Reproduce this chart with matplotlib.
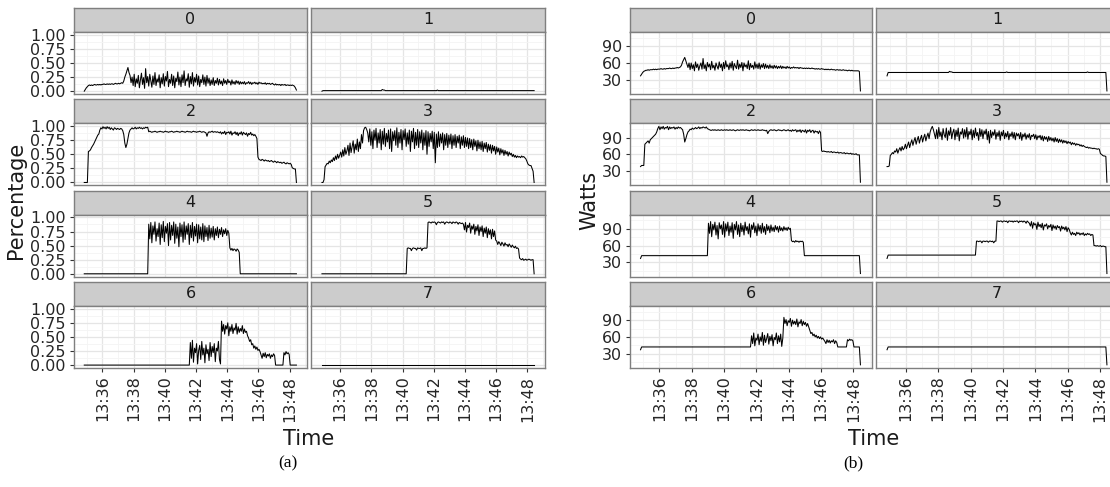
import numpy as np
import matplotlib
matplotlib.use('Agg')
import matplotlib.pyplot as plt

W, H = 1110, 487

# trace window, in minutes after 13:00 (13:34:50 -> 13:48:26, one sample every 4 s)
T_START = 34.833
T_END = 48.433

time_ticks = [36, 38, 40, 42, 44, 46, 48]
time_labels = ['13:36', '13:38', '13:40', '13:42', '13:44', '13:46', '13:48']
cores = ['0', '1', '2', '3', '4', '5', '6', '7']

pct_ticks = [0.0, 0.25, 0.5, 0.75, 1.0]
pct_labels = ['0.00', '0.25', '0.50', '0.75', '1.00']
watt_ticks = [30, 60, 90]
watt_labels = ['30', '60', '90']

# ---- (a) utilisation per core ----
cpu_0 = ([0.00, 0.03, 0.06, 0.08] +
         [0.10, 0.11, 0.10, 0.11, 0.10, 0.11, 0.12, 0.11, 0.11, 0.12,
          0.11, 0.12, 0.11, 0.12, 0.12, 0.13, 0.12, 0.12, 0.13, 0.12,
          0.13, 0.12, 0.13, 0.13, 0.12, 0.13, 0.14, 0.13, 0.13, 0.14,
          0.13, 0.14, 0.15, 0.14] +
         [0.18, 0.25, 0.30, 0.36, 0.42, 0.33, 0.28, 0.15] +
         [0.25, 0.10, 0.30, 0.08, 0.22, 0.14, 0.28, 0.06, 0.20, 0.32,
          0.12, 0.24, 0.05, 0.40, 0.15, 0.26, 0.09, 0.30, 0.18, 0.07,
          0.27, 0.12, 0.33, 0.10, 0.22, 0.16, 0.29, 0.06, 0.24, 0.13,
          0.31, 0.09, 0.26, 0.18, 0.35, 0.08, 0.21, 0.14, 0.30, 0.10,
          0.27, 0.06, 0.23, 0.17, 0.34, 0.11, 0.25, 0.08, 0.29, 0.15,
          0.36, 0.10, 0.22, 0.18, 0.31, 0.07, 0.26, 0.13, 0.33, 0.09,
          0.24, 0.16, 0.30, 0.11, 0.27, 0.08, 0.21, 0.15, 0.29, 0.12,
          0.25, 0.09, 0.28, 0.14, 0.23, 0.10] +
         [0.20, 0.12, 0.24, 0.10, 0.19, 0.14, 0.23, 0.11, 0.21, 0.13,
          0.18, 0.10, 0.22, 0.14, 0.19, 0.12, 0.21, 0.15, 0.18, 0.11,
          0.20, 0.13, 0.17, 0.12, 0.19, 0.14, 0.18, 0.12, 0.17, 0.13] +
         [0.16, 0.13, 0.17, 0.12, 0.15, 0.14, 0.17, 0.13, 0.16, 0.12,
          0.15, 0.14, 0.16, 0.13, 0.15, 0.12, 0.16, 0.14, 0.15, 0.13,
          0.14, 0.13, 0.15, 0.12, 0.14, 0.13, 0.14, 0.12, 0.13, 0.14] +
         [0.12, 0.11, 0.13, 0.11, 0.12, 0.11, 0.12, 0.10, 0.12, 0.11,
          0.11, 0.12, 0.10, 0.11, 0.11, 0.10, 0.11, 0.10, 0.11, 0.10] +
         [0.09, 0.06, 0.02])
cpu_1 = [0.00] + [0.01] * 57 + [0.03, 0.02, 0.02] + [0.01] * 50 + [0.02] + [0.01] * 93
cpu_2 = ([0.00, 0.00, 0.00, 0.00] +
         [0.55, 0.56, 0.58, 0.62, 0.65, 0.68, 0.72, 0.76, 0.80, 0.84, 0.86, 0.93, 0.97] +
         [0.95, 0.99, 0.96, 0.98, 0.95, 0.99, 0.96, 0.98, 0.94, 0.97,
          0.95, 0.93, 0.97, 0.96, 0.94, 0.96, 0.95, 0.94, 0.96, 0.95, 0.92] +
         [0.85, 0.70, 0.62, 0.68, 0.78, 0.88, 0.93] +
         [0.95, 0.97, 0.95, 0.96, 0.98, 0.95, 0.97, 0.96, 0.98, 0.96,
          0.97, 0.95, 0.97, 0.96, 0.98, 0.97, 0.98] +
         [0.90, 0.91, 0.90, 0.89, 0.90, 0.90, 0.91, 0.90, 0.89, 0.90,
          0.90, 0.91, 0.90, 0.90, 0.89, 0.90, 0.91, 0.90, 0.90, 0.89,
          0.90, 0.90, 0.91, 0.90, 0.89, 0.90, 0.90, 0.91, 0.90, 0.90,
          0.89, 0.90, 0.91, 0.90, 0.90, 0.89, 0.90, 0.91, 0.90, 0.90,
          0.90, 0.89, 0.90, 0.91, 0.90, 0.90, 0.89, 0.90, 0.90, 0.91,
          0.90, 0.89, 0.90, 0.90, 0.89, 0.88] +
         [0.82, 0.88] +
         [0.90, 0.89, 0.90, 0.91, 0.89, 0.90, 0.90, 0.89, 0.90, 0.89] +
         [0.88, 0.90, 0.86, 0.89, 0.87, 0.91, 0.85, 0.89, 0.88, 0.90,
          0.86, 0.91, 0.84, 0.88, 0.87, 0.90, 0.85, 0.89, 0.83, 0.88,
          0.86, 0.90, 0.84, 0.89, 0.87, 0.85, 0.88, 0.82, 0.87, 0.85,
          0.89, 0.84, 0.86, 0.83, 0.85, 0.82] +
         [0.78, 0.45] +
         [0.41, 0.40, 0.39, 0.41, 0.40, 0.38, 0.40, 0.39, 0.38, 0.39,
          0.37, 0.38, 0.39, 0.37, 0.36, 0.38, 0.37, 0.35, 0.37, 0.36,
          0.35, 0.36, 0.34, 0.35, 0.36, 0.34, 0.33, 0.35, 0.34, 0.33,
          0.34, 0.32] +
         [0.26, 0.25, 0.24, 0.24, 0.00])
cpu_3 = ([0.00, 0.00, 0.05, 0.28] +
         [0.31, 0.34, 0.33, 0.38, 0.35, 0.40, 0.37, 0.44, 0.39, 0.47, 0.41, 0.50, 0.43, 0.48] +
         [0.54, 0.45, 0.58, 0.47, 0.62, 0.50, 0.56, 0.66, 0.48, 0.70,
          0.53, 0.64, 0.74, 0.52, 0.68, 0.58, 0.77, 0.55, 0.72, 0.60, 0.85, 0.70] +
         [0.92, 0.97, 0.98, 0.94, 0.88, 0.72] +
         [0.95, 0.66, 0.90, 0.60, 0.93, 0.75, 0.96, 0.62, 0.88, 0.70,
          0.94, 0.58, 0.91, 0.68, 0.96, 0.64, 0.87, 0.72, 0.93, 0.60,
          0.95, 0.55, 0.90, 0.74, 0.92, 0.66, 0.97, 0.62, 0.89, 0.70,
          0.94, 0.58, 0.92, 0.76, 0.95, 0.64, 0.88, 0.68, 0.93, 0.55,
          0.91, 0.72, 0.96, 0.60, 0.89, 0.66, 0.94, 0.62, 0.90, 0.70,
          0.93, 0.58, 0.88, 0.66, 0.92, 0.50, 0.90, 0.64, 0.87, 0.72,
          0.91, 0.60, 0.89, 0.35, 0.86, 0.62] +
         [0.90, 0.64, 0.86, 0.70, 0.88, 0.58, 0.85, 0.66, 0.87, 0.62,
          0.84, 0.68, 0.86, 0.60, 0.83, 0.66, 0.85, 0.62, 0.82, 0.70,
          0.84, 0.60, 0.81, 0.66, 0.83, 0.62, 0.80, 0.64, 0.79, 0.60] +
         [0.78, 0.62, 0.76, 0.58, 0.77, 0.64, 0.74, 0.56, 0.75, 0.60,
          0.72, 0.58, 0.73, 0.55, 0.70, 0.60, 0.71, 0.54, 0.68, 0.57,
          0.67, 0.52, 0.66, 0.56, 0.64, 0.50, 0.63, 0.54, 0.61, 0.49,
          0.60, 0.52, 0.58, 0.48, 0.57, 0.50, 0.55, 0.47, 0.54, 0.49,
          0.52, 0.46] +
         [0.50, 0.45, 0.48, 0.44, 0.47, 0.45, 0.46, 0.44, 0.47, 0.45, 0.46, 0.44] +
         [0.42, 0.38, 0.33, 0.31, 0.30, 0.30, 0.25, 0.20, 0.00])
cpu_4 = ([0.0] * 62 +
         [0.88, 0.62, 0.91, 0.55, 0.85, 0.70, 0.92, 0.58, 0.80, 0.66,
          0.90, 0.52, 0.87, 0.64, 0.93, 0.57, 0.84, 0.72, 0.89, 0.50,
          0.91, 0.60, 0.86, 0.68, 0.92, 0.54, 0.88, 0.63, 0.83, 0.48,
          0.90, 0.66, 0.87, 0.56, 0.92, 0.61, 0.85, 0.70, 0.89, 0.52,
          0.86, 0.64, 0.91, 0.58, 0.84, 0.67, 0.88, 0.55, 0.87, 0.62,
          0.83, 0.60, 0.89, 0.57, 0.85, 0.66, 0.82, 0.59, 0.86, 0.63,
          0.81, 0.65, 0.84, 0.60, 0.80, 0.68, 0.83, 0.64, 0.79, 0.70,
          0.82, 0.66, 0.78, 0.71, 0.80, 0.68, 0.77, 0.72] +
         [0.46, 0.42, 0.45, 0.41, 0.44, 0.43, 0.40, 0.44, 0.42, 0.38] +
         [0.0] * 55)
cpu_5 = ([0.0] * 82 +
         [0.45, 0.46, 0.45, 0.45, 0.41, 0.45, 0.46, 0.45, 0.45, 0.42,
          0.46, 0.45, 0.45, 0.46, 0.41, 0.45, 0.45, 0.46, 0.45, 0.46] +
         [0.91, 0.92, 0.91, 0.90, 0.92, 0.91, 0.92, 0.91, 0.87, 0.91,
          0.92, 0.91, 0.90, 0.92, 0.91, 0.92, 0.88, 0.91, 0.92, 0.91,
          0.90, 0.92, 0.91, 0.89, 0.92, 0.91, 0.90, 0.92, 0.91, 0.88,
          0.91, 0.90, 0.89, 0.90] +
         [0.88, 0.78, 0.91, 0.74, 0.86, 0.82, 0.90, 0.72, 0.85, 0.79,
          0.88, 0.70, 0.84, 0.76, 0.87, 0.68, 0.83, 0.75, 0.85, 0.66,
          0.81, 0.72, 0.83, 0.64, 0.80, 0.70, 0.78, 0.62, 0.79, 0.66,
          0.76, 0.60] +
         [0.58, 0.52, 0.57, 0.54, 0.50, 0.56, 0.53, 0.49, 0.55, 0.51,
          0.52, 0.48, 0.53, 0.50, 0.47, 0.51, 0.48, 0.46, 0.49, 0.45,
          0.46, 0.44] +
         [0.28, 0.26, 0.25, 0.27, 0.24, 0.25, 0.26, 0.24, 0.25, 0.26, 0.25, 0.24, 0.25, 0.25] +
         [0.0])
cpu_6 = ([0.0] * 102 +
         [0.40, 0.12, 0.44, 0.05, 0.30, 0.22, 0.38, 0.02, 0.26, 0.35,
          0.10, 0.42, 0.18, 0.30, 0.04, 0.36, 0.20, 0.28, 0.08, 0.40,
          0.15, 0.33, 0.22, 0.38, 0.06, 0.30, 0.25, 0.42, 0.10, 0.02] +
         [0.78, 0.60, 0.72, 0.55, 0.70, 0.64, 0.75, 0.52, 0.68, 0.60,
          0.72, 0.56, 0.66, 0.62, 0.74, 0.55, 0.68, 0.58, 0.65, 0.60,
          0.70, 0.56, 0.64, 0.58, 0.60, 0.52] +
         [0.48, 0.42, 0.45, 0.36, 0.38, 0.30, 0.34, 0.28, 0.32, 0.26, 0.28, 0.24] +
         [0.18, 0.12, 0.21, 0.15, 0.22, 0.13, 0.19, 0.16, 0.20, 0.12, 0.18, 0.15, 0.20, 0.17] +
         [0.0] * 8 + [0.22, 0.18, 0.24, 0.20, 0.22, 0.19] + [0.0] * 7)
cpu_7 = [0.0] * 205

# ---- (b) power per core ----
watts_0 = ([37, 40, 43, 45, 46, 47] +
           [47, 48, 47, 48, 48, 48, 49, 48, 49, 48, 49, 49, 49, 50, 49, 49,
            50, 49, 50, 50, 50, 51, 50, 50, 51, 50, 51, 51, 52, 51, 52, 53] +
           [56, 62, 66, 70, 64, 58, 52, 60] +
           [48, 60, 50, 57, 46, 62, 52, 58, 47, 55,
            60, 49, 68, 50, 57, 46, 61, 53, 58, 48,
            63, 51, 56, 47, 60, 54, 49, 62, 52, 58,
            46, 61, 50, 64, 53, 57, 48, 60, 51, 63,
            47, 59, 54, 50, 65, 49, 58, 52, 61, 46,
            60, 53, 57, 50, 64, 48, 59, 52, 56, 49,
            62, 51, 58, 50, 60, 49, 57, 52, 59, 50,
            58, 51, 56, 50, 57, 51, 55, 50, 56, 51,
            55, 50, 54, 51, 55, 50, 54, 51, 53, 50,
            54, 51, 53, 50] +
           [52, 51, 53, 51, 52, 51, 52, 50, 52, 51,
            51, 50, 51, 50, 51, 50, 51, 50, 50, 51,
            50, 50, 49, 50, 49, 50, 49, 49, 50, 49,
            49, 48, 49, 48, 49, 48, 48, 49, 48, 48,
            48, 47, 48, 48, 47, 48, 47, 47, 48, 47,
            47, 47, 46, 47, 47, 46, 47, 46, 46, 46,
            46, 46] +
           [46, 45, 10])
watts_1 = [37] + [43] * 57 + [45, 44, 44] + [43] * 50 + [44] + [43] * 74 + [44] + [43] * 17 + [10]
watts_2 = ([38, 40, 40, 40] +
           [78, 80, 82, 84, 80, 86, 88, 90, 92, 94, 96, 100, 106, 110] +
           [104, 109, 106, 110, 105, 108, 107, 110, 104, 109, 106,
            108, 107, 109, 105, 108, 106, 109, 107, 108, 106, 104] +
           [96, 82, 88, 95, 100] +
           [102, 105, 104, 107, 105, 106, 108, 106, 107, 109,
            106, 108, 107, 109, 108, 107, 109, 106, 105] +
           [104, 103, 103, 104, 103, 104, 103, 103, 104, 103,
            103, 104, 103, 103, 104, 103, 104, 103, 103, 104,
            103, 103, 104, 103, 102, 103, 104, 103, 103, 104,
            103, 104, 103, 103, 104, 103, 103, 102, 103, 104,
            103, 103, 104, 103, 103, 104, 103, 103, 103, 104,
            103, 103, 102, 103, 97, 101, 103, 104, 103, 103,
            104, 103, 102, 103, 104, 103, 103, 102, 103, 104,
            103, 102, 103, 104, 102, 103, 101, 104, 102, 103] +
           [104, 100, 103, 101, 104, 99, 103, 102, 100, 104, 98, 103,
            101, 104, 99, 102, 103, 98, 102, 100, 101, 97, 102, 99] +
           [66, 65, 66, 65, 65, 64, 65, 64, 64, 65, 63, 64, 64, 63, 63, 64, 62,
            63, 63, 62, 62, 63, 61, 62, 62, 61, 61, 62, 60, 61, 60, 60, 61, 59] +
           [59, 59, 10])
watts_3 = ([38, 38, 39, 58] +
           [60, 63, 61, 66, 64, 70, 62, 68, 72, 66, 74, 68, 71, 78, 70, 76, 82, 72,
            80, 86, 76, 84, 90, 78, 86, 92, 80, 88, 94, 82, 90, 96, 84, 92, 98, 88] +
           [100, 106, 110, 104, 96, 88] +
           [104, 88, 108, 92, 100, 86, 106, 95, 90, 107,
            85, 102, 94, 108, 88, 99, 105, 86, 103, 92,
            107, 84, 100, 96, 106, 89, 104, 91, 108, 87,
            101, 95, 105, 86, 103, 90, 107, 93, 99, 85,
            106, 92, 104, 88, 102, 96, 105, 86, 101, 80,
            103, 90, 100, 94, 104, 87, 99, 92, 102, 85,
            100, 93, 103, 88, 98, 91, 101, 86, 97, 92,
            100, 89, 99, 86, 98, 93, 97, 88, 99, 85,
            96, 91, 98, 87, 95, 90, 97, 86, 94, 92,
            96, 88, 95, 86, 93, 90] +
           [94, 86, 93, 84, 92, 87, 91, 83, 92, 85,
            90, 84, 89, 82, 90, 83, 88, 81, 87, 82,
            86, 80, 85, 81, 84, 79, 83, 80, 82, 77,
            81, 78, 80, 76, 79, 77, 78, 75, 77, 74,
            76, 74] +
           [73, 72, 73, 71, 72, 71, 71, 70, 71, 70, 70, 69, 70, 69] +
           [61, 60, 58, 57, 57, 56, 10])
watts_4 = ([37] + [42] * 62 +
           [100, 82, 103, 76, 98, 88, 102, 79, 96, 72,
            101, 90, 97, 80, 103, 75, 99, 86, 102, 78,
            95, 84, 101, 73, 98, 88, 103, 80, 97, 76,
            100, 85, 96, 79, 102, 87, 94, 81, 99, 75,
            97, 89, 101, 83, 95, 78, 99, 86, 96, 82,
            100, 84, 94, 80, 98, 87, 95, 83, 97, 86,
            93, 85, 96, 88, 94, 84, 95, 87, 92, 86,
            94, 88, 92, 87, 93, 89, 91] +
           [69, 67, 68, 66, 69, 67, 68, 66, 68, 67, 68, 66] +
           [42] * 52 + [10])
watts_5 = ([37] + [43] * 82 +
           [68, 68, 67, 68, 68, 65, 68, 68, 67, 68, 68, 66, 68, 68, 67, 68, 65, 68, 68] +
           [104, 104, 103, 104, 104, 102, 104, 104, 103, 104,
            101, 104, 104, 103, 104, 102, 104, 103, 104, 104,
            101, 104, 103, 104, 102, 104, 103, 100, 104, 102] +
           [100, 95, 103, 91, 101, 97, 99, 89, 102, 94,
            98, 92, 100, 88, 97, 95, 99, 90, 96, 93,
            98, 87, 97, 91, 95, 89, 96, 92, 94, 86,
            95, 90, 93, 88, 94, 85, 92, 89] +
           [83, 79, 84, 80, 82, 78, 84, 81, 83, 79, 82,
            80, 83, 78, 81, 79, 82, 80, 81, 78, 80, 79] +
           [60, 60, 59, 60, 59, 59, 60, 58, 59, 59, 58, 58] +
           [10])
watts_6 = ([37] + [42] * 102 +
           [62, 48, 67, 44, 58, 54, 65, 46, 60, 52,
            68, 45, 63, 50, 57, 66, 47, 61, 53, 64,
            44, 59, 55, 67, 48, 62, 51, 65, 43, 58] +
           [95, 84, 91, 80, 89, 86, 93, 79, 90, 83,
            88, 82, 92, 78, 87, 84, 91, 80, 88, 82, 86, 79, 84, 78] +
           [72, 66, 68, 62, 65, 60, 63, 58, 61, 57, 60, 56, 58, 55] +
           [52, 48, 55, 50, 54, 49, 53, 51, 55, 48, 53, 50] +
           [42] * 9 + [55, 53, 56, 54, 55, 53] + [42] * 6 + [10])
watts_7 = [37] + [42] * 203 + [10]

cpu_series = [cpu_0, cpu_1, cpu_2, cpu_3, cpu_4, cpu_5, cpu_6, cpu_7]
watt_series = [watts_0, watts_1, watts_2, watts_3, watts_4, watts_5, watts_6, watts_7]

XLIM = (34.15, 49.13)
BORDER = '#7F7F7F'


def add_box(fig, x0, y0, x1, y1):
    # pixel box (top-left origin) -> figure axes
    return fig.add_axes([x0 / W, 1 - y1 / H, (x1 - x0) / W, (y1 - y0) / H])


def draw_group(fig, cols, series, ylim, yticks, yminor, ylabels):
    for k, vals in enumerate(series):
        row, col = k // 2, k % 2
        x0, x1 = cols[col]
        top = 8 + 91.3 * row

        strip = add_box(fig, x0, top, x1, top + 24)
        strip.set_facecolor('#CCCCCC')
        strip.set_xticks([])
        strip.set_yticks([])
        for s in strip.spines.values():
            s.set_color(BORDER)
            s.set_linewidth(1.0)
        strip.text(0.5, 0.5, cores[k], ha='center', va='center',
                   fontsize=11.5, color='#1A1A1A', transform=strip.transAxes)

        ax = add_box(fig, x0, top + 24, x1, top + 86)
        t = np.linspace(T_START, T_END, len(vals))
        ax.plot(t, vals, color='black', lw=0.75)
        ax.set_xlim(XLIM)
        ax.set_ylim(ylim)
        ax.set_xticks(time_ticks)
        ax.set_xticks([35, 37, 39, 41, 43, 45, 47, 49], minor=True)
        ax.set_yticks(yticks)
        ax.set_yticks(yminor, minor=True)
        ax.grid(which='major', color='#E5E5E5', lw=0.9)
        ax.grid(which='minor', color='#F4F4F4', lw=0.6)
        ax.set_axisbelow(True)
        for s in ax.spines.values():
            s.set_color(BORDER)
            s.set_linewidth(1.0)
        ax.tick_params(which='minor', length=0)
        ax.tick_params(which='major', length=3, width=0.8, color='#333333',
                       labelsize=11.5, labelcolor='#262626', pad=2.5)
        if col == 0:
            ax.set_yticklabels(ylabels)
        else:
            ax.tick_params(axis='y', length=0, labelleft=False)
        if row == 3:
            ax.set_xticklabels(time_labels, rotation=90)
        else:
            ax.tick_params(axis='x', length=0, labelbottom=False)


fig = plt.figure(figsize=(W / 100, H / 100), dpi=100)

draw_group(fig, [(73.6, 307.3), (311.3, 545.0)], cpu_series,
           (-0.05, 1.05), pct_ticks, [0.125, 0.375, 0.625, 0.875], pct_labels)
draw_group(fig, [(629.5, 871.7), (876.0, 1118.2)], watt_series,
           (4.5, 115.5), watt_ticks, [15, 45, 75, 105], watt_labels)

fig.text(16 / W, 1 - 200 / H, 'Percentage', rotation=90, ha='center', va='center',
         fontsize=15, color='#1A1A1A')
fig.text(589 / W, 1 - 200 / H, 'Watts', rotation=90, ha='center', va='center',
         fontsize=15, color='#1A1A1A')
fig.text(309 / W, 1 - 439 / H, 'Time', ha='center', va='center', fontsize=15, color='#1A1A1A')
fig.text(874 / W, 1 - 439 / H, 'Time', ha='center', va='center', fontsize=15, color='#1A1A1A')
fig.text(288 / W, 1 - 463 / H, '(a)', ha='center', va='center', fontsize=12.5,
         family='Liberation Serif')
fig.text(853 / W, 1 - 463 / H, '(b)', ha='center', va='center', fontsize=12.5,
         family='Liberation Serif')

fig.savefig('out.png', dpi=100)
